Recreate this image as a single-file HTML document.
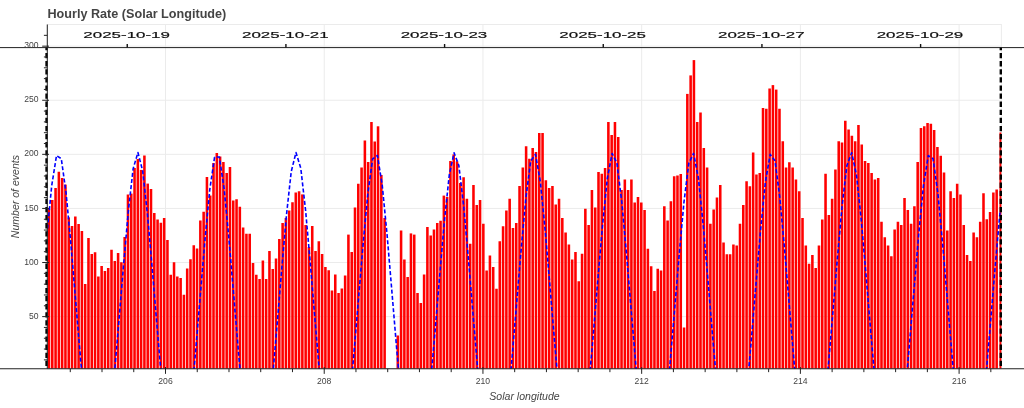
<!DOCTYPE html><html><head><meta charset="utf-8"><title>Hourly Rate</title><style>html,body{margin:0;padding:0;background:#fff;overflow:hidden}body{width:1024px;height:408px;position:relative;font-family:"Liberation Sans",sans-serif}</style></head><body><svg width="1024" height="408" viewBox="0 0 1024 408" style="position:absolute;left:0;top:0;font-family:'Liberation Sans',sans-serif">
<defs><clipPath id="fr"><rect x="47.3" y="24.5" width="954.1" height="344.25"/></clipPath></defs>
<defs><clipPath id="cl2"><rect x="0" y="47.3" width="1024" height="321.45"/></clipPath></defs>
<rect x="0" y="0" width="1024" height="408" fill="#fff"/>
<rect x="47.3" y="24.5" width="954.1" height="344.25" fill="none" stroke="#ebebeb" stroke-width="1"/>
<line x1="165.50" y1="24.5" x2="165.50" y2="368.75" stroke="#ebebeb" stroke-width="1"/>
<line x1="324.22" y1="24.5" x2="324.22" y2="368.75" stroke="#ebebeb" stroke-width="1"/>
<line x1="482.94" y1="24.5" x2="482.94" y2="368.75" stroke="#ebebeb" stroke-width="1"/>
<line x1="641.66" y1="24.5" x2="641.66" y2="368.75" stroke="#ebebeb" stroke-width="1"/>
<line x1="800.38" y1="24.5" x2="800.38" y2="368.75" stroke="#ebebeb" stroke-width="1"/>
<line x1="959.10" y1="24.5" x2="959.10" y2="368.75" stroke="#ebebeb" stroke-width="1"/>
<line x1="47.3" y1="316.61" x2="1001.4" y2="316.61" stroke="#ebebeb" stroke-width="1"/>
<line x1="47.3" y1="262.52" x2="1001.4" y2="262.52" stroke="#ebebeb" stroke-width="1"/>
<line x1="47.3" y1="208.43" x2="1001.4" y2="208.43" stroke="#ebebeb" stroke-width="1"/>
<line x1="47.3" y1="154.34" x2="1001.4" y2="154.34" stroke="#ebebeb" stroke-width="1"/>
<line x1="47.3" y1="100.25" x2="1001.4" y2="100.25" stroke="#ebebeb" stroke-width="1"/>
<line x1="47.3" y1="46.16" x2="1001.4" y2="46.16" stroke="#ebebeb" stroke-width="1"/>
<g clip-path="url(#fr)" fill="#ff0000">
<rect x="44.43" y="212.00" width="2.55" height="156.75"/>
<rect x="47.72" y="209.00" width="2.55" height="159.75"/>
<rect x="51.01" y="200.00" width="2.55" height="168.75"/>
<rect x="54.30" y="188.00" width="2.55" height="180.75"/>
<rect x="57.59" y="171.75" width="2.55" height="197.00"/>
<rect x="60.88" y="178.00" width="2.55" height="190.75"/>
<rect x="64.17" y="184.60" width="2.55" height="184.15"/>
<rect x="67.46" y="217.40" width="2.55" height="151.35"/>
<rect x="70.75" y="226.00" width="2.55" height="142.75"/>
<rect x="74.04" y="216.50" width="2.55" height="152.25"/>
<rect x="77.33" y="224.00" width="2.55" height="144.75"/>
<rect x="80.62" y="231.00" width="2.55" height="137.75"/>
<rect x="83.91" y="284.00" width="2.55" height="84.75"/>
<rect x="87.20" y="238.00" width="2.55" height="130.75"/>
<rect x="90.49" y="254.00" width="2.55" height="114.75"/>
<rect x="93.78" y="252.25" width="2.55" height="116.50"/>
<rect x="97.07" y="276.50" width="2.55" height="92.25"/>
<rect x="100.36" y="266.00" width="2.55" height="102.75"/>
<rect x="103.65" y="271.00" width="2.55" height="97.75"/>
<rect x="106.94" y="268.00" width="2.55" height="100.75"/>
<rect x="110.23" y="249.75" width="2.55" height="119.00"/>
<rect x="113.53" y="261.00" width="2.55" height="107.75"/>
<rect x="116.82" y="253.00" width="2.55" height="115.75"/>
<rect x="120.11" y="262.25" width="2.55" height="106.50"/>
<rect x="123.40" y="237.00" width="2.55" height="131.75"/>
<rect x="126.69" y="194.50" width="2.55" height="174.25"/>
<rect x="129.98" y="193.60" width="2.55" height="175.15"/>
<rect x="133.27" y="168.00" width="2.55" height="200.75"/>
<rect x="136.56" y="159.00" width="2.55" height="209.75"/>
<rect x="139.85" y="169.90" width="2.55" height="198.85"/>
<rect x="143.14" y="155.50" width="2.55" height="213.25"/>
<rect x="146.43" y="183.60" width="2.55" height="185.15"/>
<rect x="149.72" y="189.00" width="2.55" height="179.75"/>
<rect x="153.01" y="213.00" width="2.55" height="155.75"/>
<rect x="156.30" y="219.50" width="2.55" height="149.25"/>
<rect x="159.59" y="222.75" width="2.55" height="146.00"/>
<rect x="162.88" y="218.00" width="2.55" height="150.75"/>
<rect x="166.17" y="240.00" width="2.55" height="128.75"/>
<rect x="169.46" y="274.75" width="2.55" height="94.00"/>
<rect x="172.75" y="262.25" width="2.55" height="106.50"/>
<rect x="176.04" y="276.50" width="2.55" height="92.25"/>
<rect x="179.34" y="278.00" width="2.55" height="90.75"/>
<rect x="182.63" y="294.75" width="2.55" height="74.00"/>
<rect x="185.92" y="268.50" width="2.55" height="100.25"/>
<rect x="189.21" y="259.25" width="2.55" height="109.50"/>
<rect x="192.50" y="245.25" width="2.55" height="123.50"/>
<rect x="195.79" y="248.50" width="2.55" height="120.25"/>
<rect x="199.08" y="220.50" width="2.55" height="148.25"/>
<rect x="202.37" y="211.75" width="2.55" height="157.00"/>
<rect x="205.66" y="177.00" width="2.55" height="191.75"/>
<rect x="208.95" y="195.50" width="2.55" height="173.25"/>
<rect x="212.24" y="163.00" width="2.55" height="205.75"/>
<rect x="215.53" y="153.00" width="2.55" height="215.75"/>
<rect x="218.82" y="156.50" width="2.55" height="212.25"/>
<rect x="222.11" y="162.00" width="2.55" height="206.75"/>
<rect x="225.40" y="173.00" width="2.55" height="195.75"/>
<rect x="228.69" y="167.00" width="2.55" height="201.75"/>
<rect x="231.98" y="200.50" width="2.55" height="168.25"/>
<rect x="235.27" y="199.25" width="2.55" height="169.50"/>
<rect x="238.56" y="206.75" width="2.55" height="162.00"/>
<rect x="241.85" y="227.50" width="2.55" height="141.25"/>
<rect x="245.15" y="233.75" width="2.55" height="135.00"/>
<rect x="248.44" y="233.75" width="2.55" height="135.00"/>
<rect x="251.73" y="263.00" width="2.55" height="105.75"/>
<rect x="255.02" y="274.75" width="2.55" height="94.00"/>
<rect x="258.31" y="279.00" width="2.55" height="89.75"/>
<rect x="261.60" y="260.50" width="2.55" height="108.25"/>
<rect x="264.89" y="279.00" width="2.55" height="89.75"/>
<rect x="268.18" y="251.00" width="2.55" height="117.75"/>
<rect x="271.47" y="269.00" width="2.55" height="99.75"/>
<rect x="274.76" y="258.50" width="2.55" height="110.25"/>
<rect x="278.05" y="239.00" width="2.55" height="129.75"/>
<rect x="281.34" y="223.00" width="2.55" height="145.75"/>
<rect x="284.63" y="218.00" width="2.55" height="150.75"/>
<rect x="287.92" y="210.50" width="2.55" height="158.25"/>
<rect x="291.21" y="202.25" width="2.55" height="166.50"/>
<rect x="294.50" y="192.50" width="2.55" height="176.25"/>
<rect x="297.79" y="191.25" width="2.55" height="177.50"/>
<rect x="301.08" y="194.40" width="2.55" height="174.35"/>
<rect x="304.37" y="225.00" width="2.55" height="143.75"/>
<rect x="307.67" y="247.00" width="2.55" height="121.75"/>
<rect x="310.96" y="226.00" width="2.55" height="142.75"/>
<rect x="314.25" y="251.00" width="2.55" height="117.75"/>
<rect x="317.54" y="241.25" width="2.55" height="127.50"/>
<rect x="320.83" y="254.00" width="2.55" height="114.75"/>
<rect x="324.12" y="267.00" width="2.55" height="101.75"/>
<rect x="327.41" y="270.25" width="2.55" height="98.50"/>
<rect x="330.70" y="290.50" width="2.55" height="78.25"/>
<rect x="333.99" y="274.50" width="2.55" height="94.25"/>
<rect x="337.28" y="293.00" width="2.55" height="75.75"/>
<rect x="340.57" y="288.50" width="2.55" height="80.25"/>
<rect x="343.86" y="275.50" width="2.55" height="93.25"/>
<rect x="347.15" y="234.60" width="2.55" height="134.15"/>
<rect x="350.44" y="252.00" width="2.55" height="116.75"/>
<rect x="353.73" y="207.50" width="2.55" height="161.25"/>
<rect x="357.02" y="183.75" width="2.55" height="185.00"/>
<rect x="360.31" y="167.50" width="2.55" height="201.25"/>
<rect x="363.60" y="140.50" width="2.55" height="228.25"/>
<rect x="366.89" y="162.00" width="2.55" height="206.75"/>
<rect x="370.18" y="122.00" width="2.55" height="246.75"/>
<rect x="373.48" y="141.50" width="2.55" height="227.25"/>
<rect x="376.77" y="126.30" width="2.55" height="242.45"/>
<rect x="380.06" y="175.00" width="2.55" height="193.75"/>
<rect x="383.35" y="218.00" width="2.55" height="150.75"/>
<rect x="396.51" y="335.50" width="2.55" height="33.25"/>
<rect x="399.80" y="230.50" width="2.55" height="138.25"/>
<rect x="403.09" y="259.50" width="2.55" height="109.25"/>
<rect x="406.38" y="277.00" width="2.55" height="91.75"/>
<rect x="409.67" y="233.40" width="2.55" height="135.35"/>
<rect x="412.96" y="234.60" width="2.55" height="134.15"/>
<rect x="416.25" y="293.00" width="2.55" height="75.75"/>
<rect x="419.54" y="303.00" width="2.55" height="65.75"/>
<rect x="422.83" y="274.50" width="2.55" height="94.25"/>
<rect x="426.12" y="227.00" width="2.55" height="141.75"/>
<rect x="429.41" y="235.50" width="2.55" height="133.25"/>
<rect x="432.70" y="229.50" width="2.55" height="139.25"/>
<rect x="435.99" y="223.00" width="2.55" height="145.75"/>
<rect x="439.29" y="220.75" width="2.55" height="148.00"/>
<rect x="442.58" y="195.60" width="2.55" height="173.15"/>
<rect x="445.87" y="197.00" width="2.55" height="171.75"/>
<rect x="449.16" y="161.00" width="2.55" height="207.75"/>
<rect x="452.45" y="154.40" width="2.55" height="214.35"/>
<rect x="455.74" y="161.25" width="2.55" height="207.50"/>
<rect x="459.03" y="183.00" width="2.55" height="185.75"/>
<rect x="462.32" y="177.25" width="2.55" height="191.50"/>
<rect x="465.61" y="198.75" width="2.55" height="170.00"/>
<rect x="468.90" y="243.75" width="2.55" height="125.00"/>
<rect x="472.19" y="185.00" width="2.55" height="183.75"/>
<rect x="475.48" y="205.00" width="2.55" height="163.75"/>
<rect x="478.77" y="200.00" width="2.55" height="168.75"/>
<rect x="482.06" y="223.75" width="2.55" height="145.00"/>
<rect x="485.35" y="270.50" width="2.55" height="98.25"/>
<rect x="488.64" y="255.50" width="2.55" height="113.25"/>
<rect x="491.93" y="267.00" width="2.55" height="101.75"/>
<rect x="495.22" y="288.75" width="2.55" height="80.00"/>
<rect x="498.51" y="241.25" width="2.55" height="127.50"/>
<rect x="501.80" y="226.25" width="2.55" height="142.50"/>
<rect x="505.10" y="210.50" width="2.55" height="158.25"/>
<rect x="508.39" y="198.75" width="2.55" height="170.00"/>
<rect x="511.68" y="228.00" width="2.55" height="140.75"/>
<rect x="514.97" y="223.00" width="2.55" height="145.75"/>
<rect x="518.26" y="186.00" width="2.55" height="182.75"/>
<rect x="521.55" y="167.50" width="2.55" height="201.25"/>
<rect x="524.84" y="146.25" width="2.55" height="222.50"/>
<rect x="528.13" y="158.75" width="2.55" height="210.00"/>
<rect x="531.42" y="148.00" width="2.55" height="220.75"/>
<rect x="534.71" y="152.00" width="2.55" height="216.75"/>
<rect x="538.00" y="133.00" width="2.55" height="235.75"/>
<rect x="541.29" y="133.00" width="2.55" height="235.75"/>
<rect x="544.58" y="180.25" width="2.55" height="188.50"/>
<rect x="547.87" y="188.00" width="2.55" height="180.75"/>
<rect x="551.16" y="186.00" width="2.55" height="182.75"/>
<rect x="554.45" y="204.50" width="2.55" height="164.25"/>
<rect x="557.74" y="198.75" width="2.55" height="170.00"/>
<rect x="561.03" y="218.00" width="2.55" height="150.75"/>
<rect x="564.32" y="232.50" width="2.55" height="136.25"/>
<rect x="567.61" y="244.50" width="2.55" height="124.25"/>
<rect x="570.91" y="259.50" width="2.55" height="109.25"/>
<rect x="574.20" y="252.00" width="2.55" height="116.75"/>
<rect x="577.49" y="281.25" width="2.55" height="87.50"/>
<rect x="580.78" y="253.75" width="2.55" height="115.00"/>
<rect x="584.07" y="208.75" width="2.55" height="160.00"/>
<rect x="587.36" y="225.00" width="2.55" height="143.75"/>
<rect x="590.65" y="190.00" width="2.55" height="178.75"/>
<rect x="593.94" y="207.50" width="2.55" height="161.25"/>
<rect x="597.23" y="172.00" width="2.55" height="196.75"/>
<rect x="600.52" y="173.75" width="2.55" height="195.00"/>
<rect x="603.81" y="168.00" width="2.55" height="200.75"/>
<rect x="607.10" y="122.00" width="2.55" height="246.75"/>
<rect x="610.39" y="135.00" width="2.55" height="233.75"/>
<rect x="613.68" y="122.00" width="2.55" height="246.75"/>
<rect x="616.97" y="137.00" width="2.55" height="231.75"/>
<rect x="620.26" y="190.00" width="2.55" height="178.75"/>
<rect x="623.55" y="179.50" width="2.55" height="189.25"/>
<rect x="626.84" y="190.00" width="2.55" height="178.75"/>
<rect x="630.13" y="179.50" width="2.55" height="189.25"/>
<rect x="633.42" y="202.50" width="2.55" height="166.25"/>
<rect x="636.72" y="197.00" width="2.55" height="171.75"/>
<rect x="640.01" y="202.50" width="2.55" height="166.25"/>
<rect x="643.30" y="210.00" width="2.55" height="158.75"/>
<rect x="646.59" y="248.75" width="2.55" height="120.00"/>
<rect x="649.88" y="266.25" width="2.55" height="102.50"/>
<rect x="653.17" y="291.00" width="2.55" height="77.75"/>
<rect x="656.46" y="268.75" width="2.55" height="100.00"/>
<rect x="659.75" y="270.50" width="2.55" height="98.25"/>
<rect x="663.04" y="206.25" width="2.55" height="162.50"/>
<rect x="666.33" y="220.50" width="2.55" height="148.25"/>
<rect x="669.62" y="201.25" width="2.55" height="167.50"/>
<rect x="672.91" y="176.25" width="2.55" height="192.50"/>
<rect x="676.20" y="175.50" width="2.55" height="193.25"/>
<rect x="679.49" y="174.00" width="2.55" height="194.75"/>
<rect x="682.78" y="327.50" width="2.55" height="41.25"/>
<rect x="686.07" y="93.90" width="2.55" height="274.85"/>
<rect x="689.36" y="75.40" width="2.55" height="293.35"/>
<rect x="692.65" y="60.10" width="2.55" height="308.65"/>
<rect x="695.94" y="122.00" width="2.55" height="246.75"/>
<rect x="699.23" y="112.50" width="2.55" height="256.25"/>
<rect x="702.53" y="148.00" width="2.55" height="220.75"/>
<rect x="705.82" y="167.50" width="2.55" height="201.25"/>
<rect x="709.11" y="223.75" width="2.55" height="145.00"/>
<rect x="712.40" y="209.50" width="2.55" height="159.25"/>
<rect x="715.69" y="197.50" width="2.55" height="171.25"/>
<rect x="718.98" y="185.00" width="2.55" height="183.75"/>
<rect x="722.27" y="242.50" width="2.55" height="126.25"/>
<rect x="725.56" y="254.25" width="2.55" height="114.50"/>
<rect x="728.85" y="254.25" width="2.55" height="114.50"/>
<rect x="732.14" y="244.50" width="2.55" height="124.25"/>
<rect x="735.43" y="245.50" width="2.55" height="123.25"/>
<rect x="738.72" y="223.75" width="2.55" height="145.00"/>
<rect x="742.01" y="205.00" width="2.55" height="163.75"/>
<rect x="745.30" y="181.25" width="2.55" height="187.50"/>
<rect x="748.59" y="186.25" width="2.55" height="182.50"/>
<rect x="751.88" y="152.50" width="2.55" height="216.25"/>
<rect x="755.17" y="174.50" width="2.55" height="194.25"/>
<rect x="758.46" y="173.00" width="2.55" height="195.75"/>
<rect x="761.75" y="108.00" width="2.55" height="260.75"/>
<rect x="765.04" y="108.75" width="2.55" height="260.00"/>
<rect x="768.34" y="88.50" width="2.55" height="280.25"/>
<rect x="771.63" y="85.10" width="2.55" height="283.65"/>
<rect x="774.92" y="89.60" width="2.55" height="279.15"/>
<rect x="778.21" y="108.75" width="2.55" height="260.00"/>
<rect x="781.50" y="141.25" width="2.55" height="227.50"/>
<rect x="784.79" y="167.50" width="2.55" height="201.25"/>
<rect x="788.08" y="162.25" width="2.55" height="206.50"/>
<rect x="791.37" y="167.50" width="2.55" height="201.25"/>
<rect x="794.66" y="179.50" width="2.55" height="189.25"/>
<rect x="797.95" y="191.25" width="2.55" height="177.50"/>
<rect x="801.24" y="218.00" width="2.55" height="150.75"/>
<rect x="804.53" y="245.50" width="2.55" height="123.25"/>
<rect x="807.82" y="263.75" width="2.55" height="105.00"/>
<rect x="811.11" y="255.00" width="2.55" height="113.75"/>
<rect x="814.40" y="268.00" width="2.55" height="100.75"/>
<rect x="817.69" y="245.50" width="2.55" height="123.25"/>
<rect x="820.98" y="219.50" width="2.55" height="149.25"/>
<rect x="824.27" y="173.75" width="2.55" height="195.00"/>
<rect x="827.56" y="215.00" width="2.55" height="153.75"/>
<rect x="830.85" y="198.75" width="2.55" height="170.00"/>
<rect x="834.15" y="169.50" width="2.55" height="199.25"/>
<rect x="837.44" y="141.25" width="2.55" height="227.50"/>
<rect x="840.73" y="142.50" width="2.55" height="226.25"/>
<rect x="844.02" y="120.75" width="2.55" height="248.00"/>
<rect x="847.31" y="129.50" width="2.55" height="239.25"/>
<rect x="850.60" y="135.75" width="2.55" height="233.00"/>
<rect x="853.89" y="141.25" width="2.55" height="227.50"/>
<rect x="857.18" y="125.00" width="2.55" height="243.75"/>
<rect x="860.47" y="144.50" width="2.55" height="224.25"/>
<rect x="863.76" y="161.00" width="2.55" height="207.75"/>
<rect x="867.05" y="163.00" width="2.55" height="205.75"/>
<rect x="870.34" y="173.00" width="2.55" height="195.75"/>
<rect x="873.63" y="179.50" width="2.55" height="189.25"/>
<rect x="876.92" y="178.00" width="2.55" height="190.75"/>
<rect x="880.21" y="221.75" width="2.55" height="147.00"/>
<rect x="883.50" y="237.25" width="2.55" height="131.50"/>
<rect x="886.79" y="245.50" width="2.55" height="123.25"/>
<rect x="890.08" y="256.25" width="2.55" height="112.50"/>
<rect x="893.37" y="229.50" width="2.55" height="139.25"/>
<rect x="896.66" y="221.75" width="2.55" height="147.00"/>
<rect x="899.96" y="225.00" width="2.55" height="143.75"/>
<rect x="903.25" y="198.00" width="2.55" height="170.75"/>
<rect x="906.54" y="210.00" width="2.55" height="158.75"/>
<rect x="909.83" y="223.75" width="2.55" height="145.00"/>
<rect x="913.12" y="206.25" width="2.55" height="162.50"/>
<rect x="916.41" y="162.00" width="2.55" height="206.75"/>
<rect x="919.70" y="128.00" width="2.55" height="240.75"/>
<rect x="922.99" y="126.25" width="2.55" height="242.50"/>
<rect x="926.28" y="123.00" width="2.55" height="245.75"/>
<rect x="929.57" y="123.75" width="2.55" height="245.00"/>
<rect x="932.86" y="130.00" width="2.55" height="238.75"/>
<rect x="936.15" y="147.00" width="2.55" height="221.75"/>
<rect x="939.44" y="155.75" width="2.55" height="213.00"/>
<rect x="942.73" y="172.50" width="2.55" height="196.25"/>
<rect x="946.02" y="230.50" width="2.55" height="138.25"/>
<rect x="949.31" y="191.25" width="2.55" height="177.50"/>
<rect x="952.60" y="198.00" width="2.55" height="170.75"/>
<rect x="955.89" y="183.75" width="2.55" height="185.00"/>
<rect x="959.18" y="194.50" width="2.55" height="174.25"/>
<rect x="962.47" y="225.00" width="2.55" height="143.75"/>
<rect x="965.77" y="255.00" width="2.55" height="113.75"/>
<rect x="969.06" y="261.00" width="2.55" height="107.75"/>
<rect x="972.35" y="232.50" width="2.55" height="136.25"/>
<rect x="975.64" y="237.25" width="2.55" height="131.50"/>
<rect x="978.93" y="221.75" width="2.55" height="147.00"/>
<rect x="982.22" y="193.25" width="2.55" height="175.50"/>
<rect x="985.51" y="219.25" width="2.55" height="149.50"/>
<rect x="988.80" y="212.00" width="2.55" height="156.75"/>
<rect x="992.09" y="192.50" width="2.55" height="176.25"/>
<rect x="995.38" y="189.50" width="2.55" height="179.25"/>
<rect x="999.43" y="132.50" width="2.55" height="236.25"/>
</g>
<g clip-path="url(#fr)"><polyline points="46.92,234.77 51.71,185.71 56.50,155.69 61.29,158.66 66.08,192.89 70.87,243.79 75.66,300.75 80.45,357.82 85.24,410.44 90.03,453.43 94.82,480.26 99.61,484.83 104.40,465.91 109.19,428.23 113.98,378.59 118.77,322.67 123.56,265.10 128.35,210.99 133.14,168.75 137.93,152.51 142.72,171.22 147.51,214.78 152.30,269.38 157.09,326.98 161.88,382.60 166.67,431.56 171.46,468.06 176.25,485.33 181.04,478.95 185.83,450.67 190.62,406.74 195.41,353.62 200.20,296.40 204.99,239.66 209.78,189.56 214.57,157.20 219.36,156.93 224.15,188.93 228.94,238.86 233.73,295.56 238.52,352.81 243.31,406.02 248.10,450.12 252.89,478.69 257.68,485.42 262.47,468.47 267.26,432.20 272.05,383.37 276.84,327.82 281.63,270.22 286.42,215.52 291.21,171.72 296.00,152.53 300.79,168.28 305.58,210.26 310.37,264.27 315.16,321.83 319.95,377.80 324.74,427.58 329.53,465.47 334.32,484.72 339.11,480.49 343.90,453.95 348.69,411.15 353.48,358.63 358.27,301.59 363.06,244.60 367.85,193.55 372.64,158.97 377.43,155.48 382.22,185.10 387.01,233.98 391.80,290.37 396.59,347.77 401.38,401.53 406.17,446.70 410.96,476.94 415.75,485.80 420.54,470.88 425.33,436.07 430.12,388.11 434.91,332.96 439.70,275.36 444.49,220.14 449.28,174.88 454.07,152.86 458.86,165.56 463.65,205.83 468.44,259.19 473.23,316.66 478.02,372.96 482.81,423.50 487.60,462.73 492.39,483.92 497.18,481.85 501.97,457.10 506.76,415.48 511.55,363.60 516.34,306.78 521.13,249.58 525.92,197.66 530.71,161.00 535.50,154.30 540.29,181.43 545.08,229.16 549.87,285.20 554.66,342.70 559.45,396.97 564.24,443.15 569.03,475.02 573.82,485.99 578.61,473.12 583.40,439.83 588.19,392.78 592.98,338.07 597.77,280.51 602.56,224.84 607.35,178.24 612.14,153.48 616.93,163.06 621.72,201.49 626.51,254.13 631.30,311.48 636.09,368.07 640.88,419.33 645.67,459.85 650.46,482.92 655.25,483.02 660.04,460.12 664.83,419.72 669.62,368.52 674.41,311.96 679.20,254.60 683.99,201.89 688.78,163.29 693.57,153.41 698.36,177.92 703.15,224.40 707.94,280.03 712.73,337.60 717.52,392.35 722.31,439.49 727.10,472.92 731.89,485.98 736.68,475.20 741.47,443.48 746.26,397.40 751.05,343.17 755.84,285.68 760.63,229.61 765.42,181.76 770.21,154.40 775.00,160.80 779.79,197.27 784.58,249.11 789.37,306.30 794.16,363.14 798.95,415.08 803.74,456.82 808.53,481.73 813.32,484.00 818.11,462.99 822.90,423.88 827.69,373.41 832.48,317.14 837.27,259.66 842.06,206.23 846.85,165.80 851.64,152.81 856.43,174.58 861.22,219.71 866.01,274.88 870.80,332.48 875.59,387.67 880.38,435.71 885.17,470.66 889.96,485.77 894.75,477.11 899.54,447.02 904.33,401.95 909.12,348.24 913.91,290.86 918.70,234.43 923.49,185.45 928.28,155.60 933.07,158.79 937.86,193.17 942.65,244.14 947.44,301.11 952.23,358.16 957.02,410.74 961.81,453.65 966.60,480.36 971.39,484.79 976.18,465.72 980.97,427.95 985.76,378.25 990.55,322.31 995.34,264.75 1000.13,210.67" fill="none" stroke="#0000ff" stroke-width="1.6" stroke-dasharray="4 2.2" stroke-linejoin="round"/></g>
<g clip-path="url(#cl2)"><line x1="46.55" y1="44.9" x2="46.55" y2="368.75" stroke="#000" stroke-width="2.4" stroke-dasharray="5.3 2.8"/></g>
<g clip-path="url(#cl2)"><line x1="1000.8" y1="44.9" x2="1000.8" y2="368.75" stroke="#000" stroke-width="2.4" stroke-dasharray="5.3 2.8"/></g>
<line x1="47.3" y1="24.5" x2="47.3" y2="368.75" stroke="#222" stroke-width="1"/>
<line x1="43.9" y1="359.88" x2="47.3" y2="359.88" stroke="#222" stroke-width="1"/>
<line x1="43.9" y1="349.06" x2="47.3" y2="349.06" stroke="#222" stroke-width="1"/>
<line x1="43.9" y1="338.25" x2="47.3" y2="338.25" stroke="#222" stroke-width="1"/>
<line x1="43.9" y1="327.43" x2="47.3" y2="327.43" stroke="#222" stroke-width="1"/>
<line x1="42.199999999999996" y1="316.61" x2="49.0" y2="316.61" stroke="#222" stroke-width="1"/>
<line x1="43.9" y1="305.79" x2="47.3" y2="305.79" stroke="#222" stroke-width="1"/>
<line x1="43.9" y1="294.97" x2="47.3" y2="294.97" stroke="#222" stroke-width="1"/>
<line x1="43.9" y1="284.16" x2="47.3" y2="284.16" stroke="#222" stroke-width="1"/>
<line x1="43.9" y1="273.34" x2="47.3" y2="273.34" stroke="#222" stroke-width="1"/>
<line x1="42.199999999999996" y1="262.52" x2="49.0" y2="262.52" stroke="#222" stroke-width="1"/>
<line x1="43.9" y1="251.70" x2="47.3" y2="251.70" stroke="#222" stroke-width="1"/>
<line x1="43.9" y1="240.88" x2="47.3" y2="240.88" stroke="#222" stroke-width="1"/>
<line x1="43.9" y1="230.07" x2="47.3" y2="230.07" stroke="#222" stroke-width="1"/>
<line x1="43.9" y1="219.25" x2="47.3" y2="219.25" stroke="#222" stroke-width="1"/>
<line x1="42.199999999999996" y1="208.43" x2="49.0" y2="208.43" stroke="#222" stroke-width="1"/>
<line x1="43.9" y1="197.61" x2="47.3" y2="197.61" stroke="#222" stroke-width="1"/>
<line x1="43.9" y1="186.79" x2="47.3" y2="186.79" stroke="#222" stroke-width="1"/>
<line x1="43.9" y1="175.98" x2="47.3" y2="175.98" stroke="#222" stroke-width="1"/>
<line x1="43.9" y1="165.16" x2="47.3" y2="165.16" stroke="#222" stroke-width="1"/>
<line x1="42.199999999999996" y1="154.34" x2="49.0" y2="154.34" stroke="#222" stroke-width="1"/>
<line x1="43.9" y1="143.52" x2="47.3" y2="143.52" stroke="#222" stroke-width="1"/>
<line x1="43.9" y1="132.70" x2="47.3" y2="132.70" stroke="#222" stroke-width="1"/>
<line x1="43.9" y1="121.89" x2="47.3" y2="121.89" stroke="#222" stroke-width="1"/>
<line x1="43.9" y1="111.07" x2="47.3" y2="111.07" stroke="#222" stroke-width="1"/>
<line x1="42.199999999999996" y1="100.25" x2="49.0" y2="100.25" stroke="#222" stroke-width="1"/>
<line x1="43.9" y1="89.43" x2="47.3" y2="89.43" stroke="#222" stroke-width="1"/>
<line x1="43.9" y1="78.61" x2="47.3" y2="78.61" stroke="#222" stroke-width="1"/>
<line x1="43.9" y1="67.80" x2="47.3" y2="67.80" stroke="#222" stroke-width="1"/>
<line x1="43.9" y1="56.98" x2="47.3" y2="56.98" stroke="#222" stroke-width="1"/>
<line x1="42.199999999999996" y1="46.16" x2="49.0" y2="46.16" stroke="#222" stroke-width="1"/>
<line x1="43.9" y1="35.34" x2="47.3" y2="35.34" stroke="#222" stroke-width="1"/>
<line x1="0" y1="368.75" x2="1024" y2="368.75" stroke="#222" stroke-width="1"/>
<line x1="70.27" y1="368.75" x2="70.27" y2="372.15" stroke="#222" stroke-width="1"/>
<line x1="102.01" y1="368.75" x2="102.01" y2="372.15" stroke="#222" stroke-width="1"/>
<line x1="133.76" y1="368.75" x2="133.76" y2="372.15" stroke="#222" stroke-width="1"/>
<line x1="165.50" y1="367.05" x2="165.50" y2="373.85" stroke="#222" stroke-width="1"/>
<line x1="197.24" y1="368.75" x2="197.24" y2="372.15" stroke="#222" stroke-width="1"/>
<line x1="228.99" y1="368.75" x2="228.99" y2="372.15" stroke="#222" stroke-width="1"/>
<line x1="260.73" y1="368.75" x2="260.73" y2="372.15" stroke="#222" stroke-width="1"/>
<line x1="292.48" y1="368.75" x2="292.48" y2="372.15" stroke="#222" stroke-width="1"/>
<line x1="324.22" y1="367.05" x2="324.22" y2="373.85" stroke="#222" stroke-width="1"/>
<line x1="355.96" y1="368.75" x2="355.96" y2="372.15" stroke="#222" stroke-width="1"/>
<line x1="387.71" y1="368.75" x2="387.71" y2="372.15" stroke="#222" stroke-width="1"/>
<line x1="419.45" y1="368.75" x2="419.45" y2="372.15" stroke="#222" stroke-width="1"/>
<line x1="451.20" y1="368.75" x2="451.20" y2="372.15" stroke="#222" stroke-width="1"/>
<line x1="482.94" y1="367.05" x2="482.94" y2="373.85" stroke="#222" stroke-width="1"/>
<line x1="514.68" y1="368.75" x2="514.68" y2="372.15" stroke="#222" stroke-width="1"/>
<line x1="546.43" y1="368.75" x2="546.43" y2="372.15" stroke="#222" stroke-width="1"/>
<line x1="578.17" y1="368.75" x2="578.17" y2="372.15" stroke="#222" stroke-width="1"/>
<line x1="609.92" y1="368.75" x2="609.92" y2="372.15" stroke="#222" stroke-width="1"/>
<line x1="641.66" y1="367.05" x2="641.66" y2="373.85" stroke="#222" stroke-width="1"/>
<line x1="673.40" y1="368.75" x2="673.40" y2="372.15" stroke="#222" stroke-width="1"/>
<line x1="705.15" y1="368.75" x2="705.15" y2="372.15" stroke="#222" stroke-width="1"/>
<line x1="736.89" y1="368.75" x2="736.89" y2="372.15" stroke="#222" stroke-width="1"/>
<line x1="768.64" y1="368.75" x2="768.64" y2="372.15" stroke="#222" stroke-width="1"/>
<line x1="800.38" y1="367.05" x2="800.38" y2="373.85" stroke="#222" stroke-width="1"/>
<line x1="832.12" y1="368.75" x2="832.12" y2="372.15" stroke="#222" stroke-width="1"/>
<line x1="863.87" y1="368.75" x2="863.87" y2="372.15" stroke="#222" stroke-width="1"/>
<line x1="895.61" y1="368.75" x2="895.61" y2="372.15" stroke="#222" stroke-width="1"/>
<line x1="927.36" y1="368.75" x2="927.36" y2="372.15" stroke="#222" stroke-width="1"/>
<line x1="959.10" y1="367.05" x2="959.10" y2="373.85" stroke="#222" stroke-width="1"/>
<line x1="990.84" y1="368.75" x2="990.84" y2="372.15" stroke="#222" stroke-width="1"/>
<line x1="0" y1="47.6" x2="1024" y2="47.6" stroke="#222" stroke-width="1"/>
<line x1="127.25" y1="44.0" x2="127.25" y2="47.6" stroke="#111" stroke-width="1.4"/>
<line x1="285.92" y1="44.0" x2="285.92" y2="47.6" stroke="#111" stroke-width="1.4"/>
<line x1="444.59" y1="44.0" x2="444.59" y2="47.6" stroke="#111" stroke-width="1.4"/>
<line x1="603.26" y1="44.0" x2="603.26" y2="47.6" stroke="#111" stroke-width="1.4"/>
<line x1="761.93" y1="44.0" x2="761.93" y2="47.6" stroke="#111" stroke-width="1.4"/>
<line x1="920.60" y1="44.0" x2="920.60" y2="47.6" stroke="#111" stroke-width="1.4"/>
<filter id="nf" x="0" y="0" width="1024" height="408" filterUnits="userSpaceOnUse"><feOffset dx="0" dy="0"/></filter><g filter="url(#nf)"><text x="38.50" y="318.71" font-size="8.6" fill="#444444" text-anchor="end">50</text><text x="38.50" y="264.62" font-size="8.6" fill="#444444" text-anchor="end">100</text><text x="38.50" y="210.53" font-size="8.6" fill="#444444" text-anchor="end">150</text><text x="38.50" y="156.44" font-size="8.6" fill="#444444" text-anchor="end">200</text><text x="38.50" y="102.35" font-size="8.6" fill="#444444" text-anchor="end">250</text><text x="38.50" y="48.26" font-size="8.6" fill="#444444" text-anchor="end">300</text><text x="165.50" y="383.9" font-size="8.6" fill="#444444" text-anchor="middle">206</text><text x="324.22" y="383.9" font-size="8.6" fill="#444444" text-anchor="middle">208</text><text x="482.94" y="383.9" font-size="8.6" fill="#444444" text-anchor="middle">210</text><text x="641.66" y="383.9" font-size="8.6" fill="#444444" text-anchor="middle">212</text><text x="800.38" y="383.9" font-size="8.6" fill="#444444" text-anchor="middle">214</text><text x="959.10" y="383.9" font-size="8.6" fill="#444444" text-anchor="middle">216</text><text x="83.35" y="38.3" font-size="9.8" fill="#111" stroke="#111" stroke-width="0.2" textLength="86.6" lengthAdjust="spacingAndGlyphs">2025-10-19</text><text x="242.02" y="38.3" font-size="9.8" fill="#111" stroke="#111" stroke-width="0.2" textLength="86.6" lengthAdjust="spacingAndGlyphs">2025-10-21</text><text x="400.69" y="38.3" font-size="9.8" fill="#111" stroke="#111" stroke-width="0.2" textLength="86.6" lengthAdjust="spacingAndGlyphs">2025-10-23</text><text x="559.36" y="38.3" font-size="9.8" fill="#111" stroke="#111" stroke-width="0.2" textLength="86.6" lengthAdjust="spacingAndGlyphs">2025-10-25</text><text x="718.03" y="38.3" font-size="9.8" fill="#111" stroke="#111" stroke-width="0.2" textLength="86.6" lengthAdjust="spacingAndGlyphs">2025-10-27</text><text x="876.70" y="38.3" font-size="9.8" fill="#111" stroke="#111" stroke-width="0.2" textLength="86.6" lengthAdjust="spacingAndGlyphs">2025-10-29</text><text x="47.5" y="18" font-size="13" font-weight="bold" fill="#444" textLength="178.8" lengthAdjust="spacingAndGlyphs">Hourly Rate (Solar Longitude)</text><text x="524.5" y="399.6" font-size="10.55" font-style="italic" fill="#444444" text-anchor="middle">Solar longitude</text><text transform="translate(18.6,196.6) rotate(-90)" font-size="10.55" font-style="italic" fill="#444444" text-anchor="middle">Number of events</text></g>
</svg></body></html>
